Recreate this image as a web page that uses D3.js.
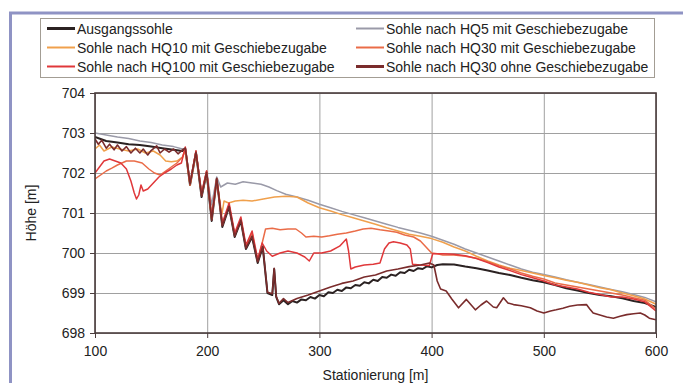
<!DOCTYPE html>
<html>
<head>
<meta charset="utf-8">
<script src="https://cdn.jsdelivr.net/npm/d3@7"></script>
<style>
  body { margin: 0; background: #fff; }
  svg { display: block; }
  text { font-family: "Liberation Sans", Arial, sans-serif; fill: #222; }
</style>
</head>
<body>
<svg id="chart" width="683" height="383"></svg>
<script>
// ---- data: [Stationierung m, Höhe m] ----
var seriesNames = ["Ausgangssohle", "Sohle nach HQ5 mit Geschiebezugabe",
  "Sohle nach HQ10 mit Geschiebezugabe", "Sohle nach HQ30 mit Geschiebezugabe",
  "Sohle nach HQ100 mit Geschiebezugabe", "Sohle nach HQ30 ohne Geschiebezugabe"];
var seriesColors = ["#2b2222", "#9a9aa8", "#f0a04c", "#ea6c48", "#e0383a", "#7a2c2c"];

var xTicks = [100, 200, 300, 400, 500, 600];
var yTicks = [698, 699, 700, 701, 702, 703, 704];

var ausgang = [[100,702.9],[105,702.85],[110,702.8],[120,702.76],[130,702.72],[140,702.7],[150,702.66],
  [160,702.62],[170,702.58],[178,702.55],[180.5,702.6],[184.7,701.7],[190,702.5],[195,701.4],[199.5,702.0],
  [204,700.8],[208.5,701.85],[213.5,700.65],[219.5,701.15],[224.5,700.4],[230,700.8],[234.5,700.1],
  [240,700.4],[245,699.75],[249.5,700.15],[253.7,699.0],[258,698.95],[259.7,699.6],[261.5,698.9],
  [264,698.72],[268,698.82],[272,698.72],[276,698.8],[280,698.76],[284,698.84],[288,698.82],[292,698.9],
  [296,698.86],[300,698.95],[304,698.92],[308,699.02],[312,699.0],[316,699.08],[320,699.05],[324,699.14],
  [328,699.12],[332,699.2],[336,699.18],[340,699.27],[344,699.24],[348,699.33],[352,699.3],[356,699.4],
  [360,699.38],[364,699.46],[368,699.43],[372,699.52],[376,699.5],[380,699.58],[384,699.55],[388,699.62],
  [392,699.6],[396,699.67],[400,699.64],[405,699.7],[410,699.72],[420,699.71],[430,699.66],[440,699.62],
  [450,699.56],[460,699.5],[470,699.45],[480,699.38],[490,699.32],[500,699.27],[510,699.2],[520,699.12],
  [530,699.06],[540,699.0],[550,698.95],[560,698.92],[570,698.87],[580,698.8],[590,698.75],[600,698.65]];

var hq5 = [[100,703.0],[110,702.95],[120,702.9],[130,702.86],[140,702.8],[150,702.76],[160,702.7],
  [170,702.66],[178,702.6],[180.5,702.62],[184.7,701.75],[190,702.55],[195,701.5],[199.5,702.05],
  [204,701.2],[208.5,701.9],[212,701.65],[218,701.75],[225,701.72],[232,701.78],[240,701.75],[248,701.72],
  [255,701.65],[262,701.56],[270,701.47],[280,701.4],[290,701.32],[300,701.22],[310,701.13],[320,701.04],
  [330,700.96],[340,700.88],[350,700.8],[360,700.72],[370,700.64],[380,700.57],[390,700.5],[400,700.42],
  [410,700.32],[420,700.22],[430,700.1],[440,700.0],[450,699.9],[460,699.8],[470,699.7],[480,699.6],
  [490,699.52],[500,699.46],[510,699.4],[520,699.33],[530,699.27],[540,699.21],[550,699.15],[560,699.09],
  [570,699.03],[580,698.96],[590,698.89],[600,698.78]];

var hq10 = [[100,702.6],[104,702.7],[108,702.55],[115,702.65],[122,702.6],[130,702.55],[138,702.6],
  [145,702.5],[152,702.55],[158,702.45],[163,702.3],[168,702.28],[173,702.3],[178,702.4],[180.5,702.55],
  [184.7,701.7],[190,702.5],[195,701.45],[199.5,702.0],[204,700.85],[208.5,701.85],[213,700.95],
  [215,701.3],[219,701.25],[225,701.3],[232,701.32],[240,701.3],[250,701.35],[260,701.4],[270,701.42],
  [280,701.4],[290,701.25],[300,701.13],[310,701.05],[320,700.96],[330,700.88],[340,700.8],[350,700.72],
  [360,700.63],[370,700.55],[380,700.47],[390,700.42],[400,700.36],[410,700.27],[420,700.15],[430,700.05],
  [440,699.92],[450,699.8],[460,699.7],[470,699.62],[480,699.56],[490,699.5],[500,699.44],[510,699.38],
  [520,699.32],[530,699.27],[540,699.2],[550,699.13],[560,699.08],[570,699.0],[580,698.93],[590,698.85],
  [600,698.72]];

var hq30mit = [[100,701.85],[105,701.95],[110,702.05],[115,702.12],[120,702.2],[128,702.3],[135,702.3],
  [142,702.25],[148,702.1],[153,702.0],[158,701.95],[163,702.05],[168,702.15],[173,702.25],[178,702.4],
  [180.5,702.6],[184.7,701.7],[190,702.55],[195,701.45],[199.5,702.05],[204,700.85],[208.5,701.85],
  [213.5,700.7],[219.5,701.2],[224.5,700.45],[230,700.85],[234.5,700.15],[240,700.5],[245,699.8],
  [249,700.25],[252,700.6],[258,700.62],[265,700.58],[272,700.6],[279,700.6],[284,700.5],[288,700.4],
  [295,700.42],[302,700.4],[309,700.43],[316,700.47],[324,700.5],[332,700.55],[339,700.6],[346,700.62],
  [354,700.58],[362,700.55],[369,700.52],[376,700.45],[384,700.4],[390,700.3],[395,700.15],[400,700.0],
  [405,699.98],[410,699.95],[420,699.95],[430,699.92],[440,699.87],[450,699.78],[460,699.68],[470,699.6],
  [480,699.5],[490,699.42],[500,699.35],[510,699.25],[520,699.2],[530,699.15],[540,699.1],[550,699.05],
  [560,699.0],[570,698.95],[580,698.88],[590,698.82],[600,698.6]];

var hq100 = [[100,702.0],[104,702.15],[108,702.3],[113,702.35],[118,702.3],[123,702.25],[128,702.1],
  [132,701.8],[135,701.5],[137,701.35],[139,701.45],[141,701.7],[143,701.55],[147,701.6],[152,701.75],
  [157,701.9],[162,702.0],[168,702.1],[173,702.2],[177,702.25],[180.5,702.65],[184.7,701.75],[190,702.55],
  [195,701.5],[199.5,702.05],[204,700.9],[208.5,701.85],[213.5,700.75],[219.5,701.25],[224.5,700.5],
  [230,700.9],[234.5,700.2],[240,700.55],[245,699.85],[249,700.25],[253,700.05],[258,699.92],[265,700.0],
  [272,700.05],[280,700.0],[287,699.9],[291,699.8],[295,700.0],[302,700.0],[310,700.05],[318,700.17],
  [324,700.35],[326,700.05],[328,699.6],[332,699.65],[340,699.7],[348,699.72],[354,699.75],[358,700.1],
  [362,700.25],[366,700.28],[372,700.25],[378,700.2],[381,700.1],[383,699.72],[390,699.7],[398,699.69],
  [401,699.98],[410,699.98],[420,699.97],[430,699.93],[440,699.86],[450,699.76],[460,699.65],[470,699.56],
  [480,699.46],[490,699.38],[500,699.3],[510,699.2],[520,699.15],[530,699.1],[540,699.02],[550,698.96],
  [560,698.9],[570,698.9],[580,698.85],[590,698.78],[600,698.55]];

var hq30ohne = [[100,702.85],[103,702.72],[106,702.82],[110,702.62],[113,702.72],[117,702.58],[120,702.7],
  [124,702.55],[128,702.66],[132,702.5],[136,702.62],[140,702.5],[143,702.6],[147,702.45],[150,702.56],
  [155,702.68],[158,702.5],[162,702.6],[166,702.52],[170,702.6],[174,702.48],[178,702.58],[180.5,702.62],
  [184.7,701.72],[190,702.52],[195,701.42],[199.5,702.02],[204,700.82],[208.5,701.87],[213.5,700.68],
  [219.5,701.17],[224.5,700.42],[230,700.82],[234.5,700.12],[240,700.42],[245,699.78],[249.5,700.17],
  [253.7,699.02],[258,698.98],[259.7,699.62],[261.5,698.92],[264,698.74],[268,698.86],[272,698.76],
  [280,698.86],[290,698.95],[300,699.05],[310,699.15],[320,699.24],[330,699.3],[340,699.4],[350,699.45],
  [360,699.55],[370,699.6],[380,699.66],[390,699.7],[398,699.75],[402,699.7],[405,699.3],[408,699.1],
  [413,699.05],[418,698.85],[424,698.63],[431,698.84],[439,698.58],[444,698.7],[449,698.8],[455,698.65],
  [458,698.63],[464,698.88],[468,698.75],[473,698.71],[480,698.68],[488,698.63],[494,698.55],[500,698.5],
  [506,698.55],[511,698.58],[517,698.62],[523,698.67],[530,698.7],[538,698.71],[541,698.6],[544,698.5],
  [550,698.45],[556,698.4],[562,698.37],[568,698.42],[574,698.46],[580,698.48],[586,698.5],[590,698.45],
  [594,698.37],[600,698.33]];

var seriesData = [ausgang, hq5, hq10, hq30mit, hq100, hq30ohne];
var seriesWidths = [2, 1.5, 1.5, 1.5, 1.5, 1.6];

// ---- layout ----
var svg = d3.select("#chart");
var plot = {left: 95, top: 93, right: 656, bottom: 333};

var x = d3.scaleLinear().domain([100, 600]).range([plot.left, plot.right]);
var y = d3.scaleLinear().domain([698, 704]).range([plot.bottom, plot.top]);

// outer frame
svg.append("rect").attr("x", 10.5).attr("y", 13).attr("width", 700).attr("height", 400)
  .attr("fill", "none").attr("stroke", "#8f93c4").attr("stroke-width", 3);

// grid
svg.append("g")
  .attr("transform", "translate(0," + plot.bottom + ")")
  .call(d3.axisBottom(x).tickValues(xTicks).tickSize(plot.top - plot.bottom).tickFormat(""))
  .call(function(g){ g.select(".domain").remove(); g.selectAll("line").attr("stroke", "#a0a0a0"); });
svg.append("g")
  .attr("transform", "translate(" + plot.left + ",0)")
  .call(d3.axisLeft(y).tickValues(yTicks).tickSize(plot.left - plot.right).tickFormat(""))
  .call(function(g){ g.select(".domain").remove(); g.selectAll("line").attr("stroke", "#a0a0a0"); });

// lines
svg.append("clipPath").attr("id", "clip").append("rect")
  .attr("x", plot.left).attr("y", plot.top)
  .attr("width", plot.right - plot.left).attr("height", plot.bottom - plot.top);

var line = d3.line().x(function(d){ return x(d[0]); }).y(function(d){ return y(d[1]); });

svg.append("g").attr("clip-path", "url(#clip)")
  .selectAll("path").data(seriesData).enter().append("path")
    .attr("d", line)
    .attr("fill", "none")
    .attr("stroke", function(d, i){ return seriesColors[i]; })
    .attr("stroke-width", function(d, i){ return seriesWidths[i]; })
    .attr("stroke-linejoin", "round");

// axes
var xAxis = svg.append("g")
  .attr("transform", "translate(0," + plot.bottom + ")")
  .call(d3.axisBottom(x).tickValues(xTicks).tickSize(5).tickPadding(8).tickFormat(d3.format("d")));
var yAxis = svg.append("g")
  .attr("transform", "translate(" + plot.left + ",0)")
  .call(d3.axisLeft(y).tickValues(yTicks).tickSize(5).tickPadding(5).tickFormat(d3.format("d")));
[xAxis, yAxis].forEach(function(g){
  g.select(".domain").remove();
  g.selectAll("line").attr("stroke", "#4a3c3c");
  g.selectAll("text").style("font-size", "14px").style("font-family", "'Liberation Sans', Arial, sans-serif").attr("fill", "#222");
});

// plot border
svg.append("rect")
  .attr("x", plot.left).attr("y", plot.top)
  .attr("width", plot.right - plot.left).attr("height", plot.bottom - plot.top)
  .attr("fill", "none").attr("stroke", "#4a3c3c").attr("stroke-width", 1.6);

// axis titles
svg.append("text").attr("x", (plot.left + plot.right) / 2).attr("y", 380)
  .attr("text-anchor", "middle").style("font-size", "14px").text("Stationierung [m]");
svg.append("text").attr("transform", "translate(36," + ((plot.top + plot.bottom) / 2) + ") rotate(-90)")
  .attr("text-anchor", "middle").style("font-size", "14px").text("Höhe [m]");

// legend
svg.append("rect").attr("x", 40.5).attr("y", 18.5).attr("width", 614).attr("height", 59)
  .attr("fill", "#fff").attr("stroke", "#a39d94").attr("stroke-width", 1);

var leg = svg.append("g").selectAll("g").data(seriesNames).enter().append("g")
  .attr("transform", function(d, i){ return "translate(" + (i % 2 ? 356 : 47) + "," + (28.5 + Math.floor(i / 2) * 19) + ")"; });
leg.append("line").attr("x1", 0).attr("x2", 28).attr("y1", 0).attr("y2", 0)
  .attr("stroke", function(d, i){ return seriesColors[i]; })
  .attr("stroke-width", function(d, i){ return i === 0 || i === 5 ? 3 : 2; });
leg.append("text").attr("x", 30).attr("y", 5).style("font-size", "14px").text(function(d){ return d; });
</script>
</body>
</html>
